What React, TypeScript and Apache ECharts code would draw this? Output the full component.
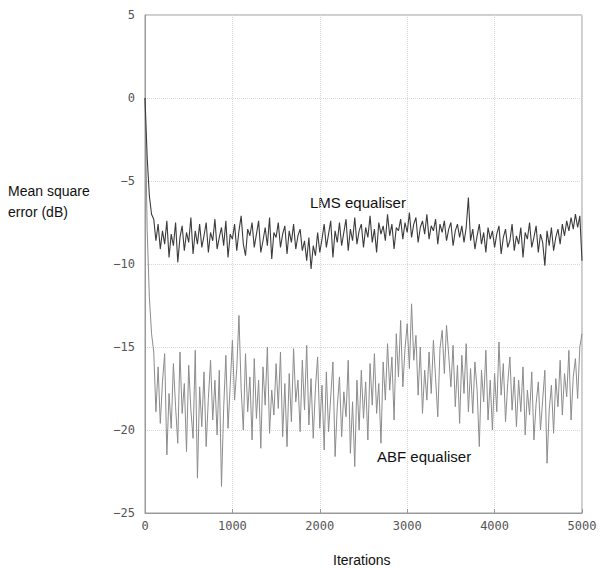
import React, { useEffect, useRef } from "react";
import * as echarts from "echarts";

const STEP = 25;
const lmsValues = [
  0, -3.6, -5.9, -7.0, -7.3, -8.6, -7.6, -9.1, -8.0, -8.8,
  -7.4, -9.6, -8.2, -8.9, -7.5, -9.9, -8.4, -7.7, -9.2, -8.1,
  -8.7, -7.2, -9.4, -8.0, -8.8, -7.6, -9.0, -8.3, -7.5, -9.3,
  -8.1, -8.6, -7.3, -9.1, -8.4, -7.8, -8.9, -7.4, -9.6, -8.2,
  -8.5, -7.6, -9.2, -8.0, -7.1, -8.8, -9.5, -7.9, -8.3, -7.5,
  -9.0, -8.2, -7.4, -9.3, -8.6, -7.8, -8.9, -7.2, -9.7, -8.1,
  -8.4, -7.5, -9.0, -8.2, -7.7, -9.4, -8.0, -8.7, -7.6, -9.1,
  -8.3, -7.9, -9.2, -8.6, -9.8, -8.4, -10.3, -8.9, -9.5, -8.1,
  -9.3, -8.5, -7.6, -9.0, -8.2, -7.4, -9.6, -8.0, -8.7, -7.5,
  -8.9, -8.1, -7.3, -9.2, -7.9, -8.6, -7.2, -8.8, -8.0, -7.6,
  -9.0, -7.8, -8.4, -7.1, -8.7, -7.9, -9.3, -7.5, -8.2, -7.7,
  -8.6, -7.0, -8.3, -7.6, -9.1, -7.8, -8.0, -7.3, -8.5, -7.5,
  -8.1, -6.9, -8.4, -7.6, -7.2, -8.7, -7.8, -7.4, -8.2, -7.0,
  -8.5, -7.7, -8.0, -7.3, -8.8, -7.6, -8.1, -7.4, -8.6, -7.9,
  -7.5, -8.9, -8.0, -7.6, -8.4, -7.7, -8.7, -7.8, -6.0, -8.6,
  -7.9, -9.1, -8.3, -7.6, -8.8, -8.1, -9.3, -7.8, -8.5, -8.0,
  -9.0, -8.2, -7.7, -9.4, -8.4, -7.9, -9.0, -8.6, -7.6, -9.2,
  -8.3, -8.8, -7.8, -9.6, -8.1, -8.5, -7.5, -9.0, -8.4, -7.7,
  -9.3, -8.2, -8.7, -10.1, -8.0, -8.9, -7.8, -9.2, -8.4, -7.9,
  -8.8, -7.6, -8.3, -7.4, -8.0, -7.2, -7.9, -7.0, -7.8, -7.1, -9.8,
];
const abfValues = [
  0, -8.0, -12.0, -14.2, -15.3, -18.9, -16.2, -19.6, -17.1, -15.4,
  -21.5, -17.8, -19.9, -16.0, -18.6, -20.8, -15.3, -19.0, -17.2, -21.3,
  -16.1, -18.8, -20.5, -15.2, -22.9, -17.4, -19.8, -16.5, -21.0, -18.1,
  -15.8, -19.4, -17.0, -20.3, -16.4, -23.4, -18.7, -15.5, -19.9, -17.3,
  -14.6, -18.2, -16.3, -13.1, -17.5, -20.0, -15.4, -18.9, -16.8, -20.6,
  -15.7, -19.3, -17.0, -21.1, -16.2, -18.5, -15.0, -20.2, -17.6, -19.1,
  -16.0, -18.7, -15.3, -20.4, -17.2, -21.0, -16.6, -19.5, -15.1, -18.3,
  -17.0, -20.1, -15.8, -18.8, -14.9, -19.7, -16.9, -20.5, -17.5, -15.6,
  -19.9, -17.3, -21.2, -16.5, -20.1, -18.0, -15.9, -21.6, -18.6, -16.8,
  -20.4, -17.7, -19.2, -15.8, -21.4, -18.3, -22.2, -17.0, -20.0, -16.4,
  -19.3, -17.1, -20.6, -16.0, -18.5, -15.4, -19.0, -17.2, -20.8, -15.9,
  -18.2, -14.8, -17.6, -15.6, -19.4, -14.2, -16.8, -13.4, -17.4, -15.1,
  -13.6, -16.3, -12.4, -15.8, -14.3, -17.9, -15.0, -19.0, -16.4, -18.2,
  -15.3, -17.8, -14.6, -16.9, -19.2, -15.1, -14.0, -16.6, -13.7, -15.5,
  -17.4, -14.9, -18.6, -16.1, -19.6, -15.5, -17.8, -14.8, -18.9, -16.3,
  -19.0, -15.9, -17.6, -21.0, -16.4, -18.3, -15.2, -19.4, -17.0, -20.0,
  -16.6, -18.9, -14.7, -17.9, -16.0, -19.5, -17.2, -15.6, -18.8, -16.8,
  -19.8, -17.0, -18.9, -16.2, -20.3, -17.6, -19.1, -16.5, -20.6, -18.4,
  -17.1, -20.0, -18.2, -16.4, -22.0, -18.8, -17.3, -20.2, -16.9, -18.6,
  -15.8, -19.1, -16.6, -18.0, -15.2, -19.4, -16.8, -15.7, -18.1, -15.0, -14.2,
];
const xTicks = [0, 1000, 2000, 3000, 4000, 5000];
const yTicks = [-25, -20, -15, -10, -5, 0, 5];

const toPairs = (vals: number[]) => vals.map((v, i) => [i * STEP, v]);

export default function App() {
  const ref = useRef<HTMLDivElement>(null);
  useEffect(() => {
    const chart = echarts.init(ref.current!, undefined, { renderer: "svg" });
    const labelFont = { fontFamily: "DejaVu Sans Mono", fontSize: 12, color: "#555" };
    const textFont = "Liberation Sans";
    chart.setOption({
      animation: false,
      backgroundColor: "#fff",
      grid: {
        left: 145, right: 18, top: 15, bottom: 56,
        show: true, borderColor: "#9a9a9a", borderWidth: 1,
      },
      xAxis: {
        type: "value", min: xTicks[0], max: xTicks[xTicks.length - 1], interval: 1000,
        axisLine: { onZero: false, lineStyle: { color: "#9a9a9a" } },
        axisTick: { show: true, inside: true, length: 4, lineStyle: { color: "#9a9a9a" } },
        axisLabel: { ...labelFont, margin: 7, formatter: (v: number) => String(v) },
        splitLine: { show: true, lineStyle: { color: "#d8d8d8", type: "dotted" } },
      },
      yAxis: {
        type: "value", min: yTicks[0], max: yTicks[yTicks.length - 1], interval: 5,
        axisLine: { show: true, onZero: false, lineStyle: { color: "#9a9a9a" } },
        axisTick: { show: false },
        axisLabel: { ...labelFont, margin: 10, formatter: (v: number) => String(v).replace("-", "\u2212") },
        splitLine: { show: true, lineStyle: { color: "#d8d8d8", type: "dotted" } },
      },
      series: [
        {
          type: "line", data: toPairs(abfValues), showSymbol: false,
          lineStyle: { color: "#8c8c8c", width: 1 }, z: 2,
        },
        {
          type: "line", data: toPairs(lmsValues), showSymbol: false,
          lineStyle: { color: "#3c3c3c", width: 1.1 }, z: 3,
        },
      ],
      graphic: [
        { type: "text", left: 8, top: 180, style: { text: "Mean square\nerror (dB)", fontFamily: textFont, fontSize: 14, lineHeight: 21, fill: "#111" } },
        { type: "text", left: 333, top: 553, style: { text: "Iterations", fontFamily: textFont, fontSize: 14, fill: "#111" } },
        { type: "text", left: 310, top: 195, style: { text: "LMS equaliser", fontFamily: textFont, fontSize: 15, fill: "#111" } },
        { type: "text", left: 377, top: 449, style: { text: "ABF equaliser", fontFamily: textFont, fontSize: 15, fill: "#111" } },
      ],
    });
    return () => chart.dispose();
  }, []);
  return <div ref={ref} style={{ position: "absolute", left: 0, top: 0, width: 600, height: 569 }} />;
}
